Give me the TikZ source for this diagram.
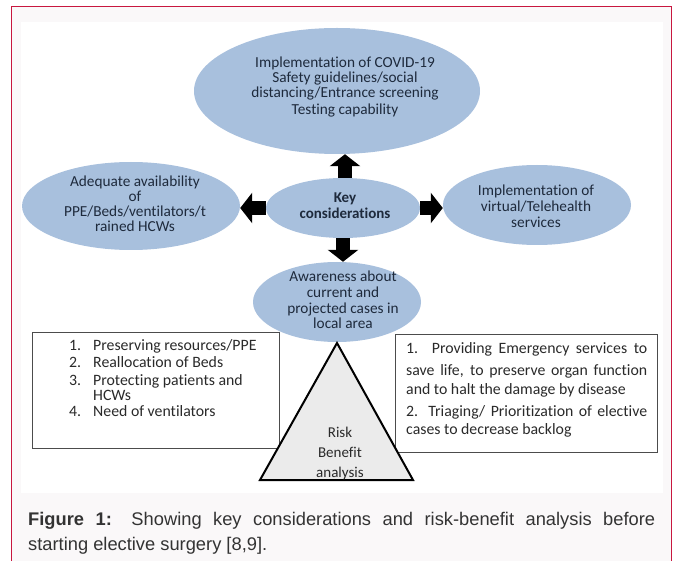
\documentclass[tikz,border=0pt]{standalone}
\usepackage{fontspec}
\setmainfont{Carlito}[Ligatures=NoCommon]
\newfontfamily\capfont{Liberation Sans}
\usetikzlibrary{shapes.geometric,arrows.meta}
\definecolor{frame}{HTML}{C8173F}
\definecolor{paper}{HTML}{FAF8F9}
\definecolor{bubble}{HTML}{A8C0DD}
\definecolor{ink}{HTML}{1E2A3C}
\definecolor{boxink}{HTML}{2A2A2A}
\definecolor{capink}{HTML}{333333}
\definecolor{trifill}{HTML}{EBEBEB}
\begin{document}
\begin{tikzpicture}[x=1pt,y=-1pt,
  bubble/.style={ellipse, fill=bubble, inner sep=0pt},
  btext/.style={anchor=base, inner sep=0pt, text=ink, font=\fontsize{15.3}{16}\selectfont},
  blk/.style={line width=14pt, -{Triangle[width=30pt,length=12pt]}},
  listbox/.style={draw=black!70, line width=0.9pt, fill=white, inner sep=0pt},
  ltext/.style={anchor=base west, inner sep=0pt, text=boxink, font=\fontsize{15.8}{16}\selectfont},
  ttext/.style={anchor=base, inner sep=0pt, text=boxink, font=\fontsize{15}{16}\selectfont},
  captext/.style={anchor=base west, inner sep=0pt, text=capink, font=\capfont\fontsize{18.3}{20}\selectfont},
]
\useasboundingbox (0,0) rectangle (675,561);
\fill[white] (0,0) rectangle (675,561);
% page frame and figure panel
\fill[paper] (11,6) rectangle (672,561);
\draw[frame, line width=1.5pt] (11.5,561) -- (11.5,6.75) -- (671.25,6.75) -- (671.25,561);
\fill[white] (21,22) rectangle (663,493);

% ellipses
\node[bubble, minimum width=286pt, minimum height=126pt] (top) at (337,91) {};
\node[bubble, minimum width=154pt, minimum height=60pt] (key) at (343,208) {};
\node[bubble, minimum width=218pt, minimum height=88pt] (left) at (131,206) {};
\node[bubble, minimum width=188pt, minimum height=80pt] (right) at (537,205) {};
\node[bubble, minimum width=168pt, minimum height=80pt] (aware) at (337,302) {};

% block arrows from the centre
\draw[blk] ([xshift=2pt]key.north) -- ([xshift=2pt]key.north |- top.south);
\draw[blk] (key.west) -- (key.west -| left.east);
\draw[blk] (key.east) -- (key.east -| right.west);
\draw[blk] (key.south) -- (key.south |- aware.north);

% ellipse texts
\foreach \t [count=\i] in {Implementation of COVID-19, Safety guidelines/social, distancing/Entrance screening}
  \node[btext] (top-\i) at (345, 68+15*\i-15) {\t};
\node[btext] (top-4) at (345,115) {Testing capability};
\node[btext, font=\fontsize{15}{16}\selectfont\bfseries] (key-1) at (345,203) {Key};
\node[btext, font=\fontsize{15}{16}\selectfont\bfseries] (key-2) at (345,219) {considerations};
\foreach \t [count=\i] in {Adequate availability, of, PPE/Beds/ventilators/t, rained HCWs}
  \node[btext] (left-\i) at (135, 187+15*\i-15) {\t};
\foreach \t [count=\i] in {Implementation of, virtual/Telehealth, services}
  \node[btext] (right-\i) at (536, 196+16*\i-16) {\t};
\foreach \t [count=\i] in {Awareness about, current and, projected cases in, local area}
  \node[btext] (aware-\i) at (343, 282+15.6*\i-15.6) {\t};

% list boxes
\node[listbox, minimum width=247pt, minimum height=116pt] (lbox) at (155.5,390) {};
\node[listbox, minimum width=262pt, minimum height=118pt] (rbox) at (526,393) {};

\node[ltext] (n1) at (69,351) {1.};
\node[ltext] (l1) at (93,351) {Preserving resources/PPE};
\node[ltext] (n2) at (69,367) {2.};
\node[ltext] (l2) at (93,367) {Reallocation of Beds};
\node[ltext] (n3) at (69,385) {3.};
\node[ltext] (l3) at (93,385) {Protecting patients and};
\node[ltext] (l3b) at (93,400.5) {HCWs};
\node[ltext] (n4) at (69,416) {4.};
\node[ltext] (l4) at (93,416) {Need of ventilators};

\node[ltext] (r1) at (406,354) {\makebox[241pt][s]{1. Providing Emergency services to}};
\node[ltext] (r2) at (406,375) {\makebox[241pt][s]{save life, to preserve organ function}};
\node[ltext] (r3) at (406,395) {and to halt the damage by disease};
\node[ltext] (r4) at (406,416) {\makebox[241pt][s]{2. Triaging/ Prioritization of elective}};
\node[ltext] (r5) at (406,435) {cases to decrease backlog};

% risk-benefit triangle
\draw[fill=trifill, line width=2pt, line join=miter] (337,343) -- (413,480) -- (260,480) -- cycle;
\node[ttext] (t1) at (340,437) {Risk};
\node[ttext] (t2) at (340,457) {Benefit};
\node[ttext] (t3) at (340,477) {analysis};

% caption
\node[captext] (cap1) at (28,525) {\makebox[627pt][s]{\textbf{Figure 1:} Showing key considerations and risk-benefit analysis before}};
\node[captext] (cap2) at (28,550) {starting elective surgery [8,9].};
\end{tikzpicture}
\end{document}
